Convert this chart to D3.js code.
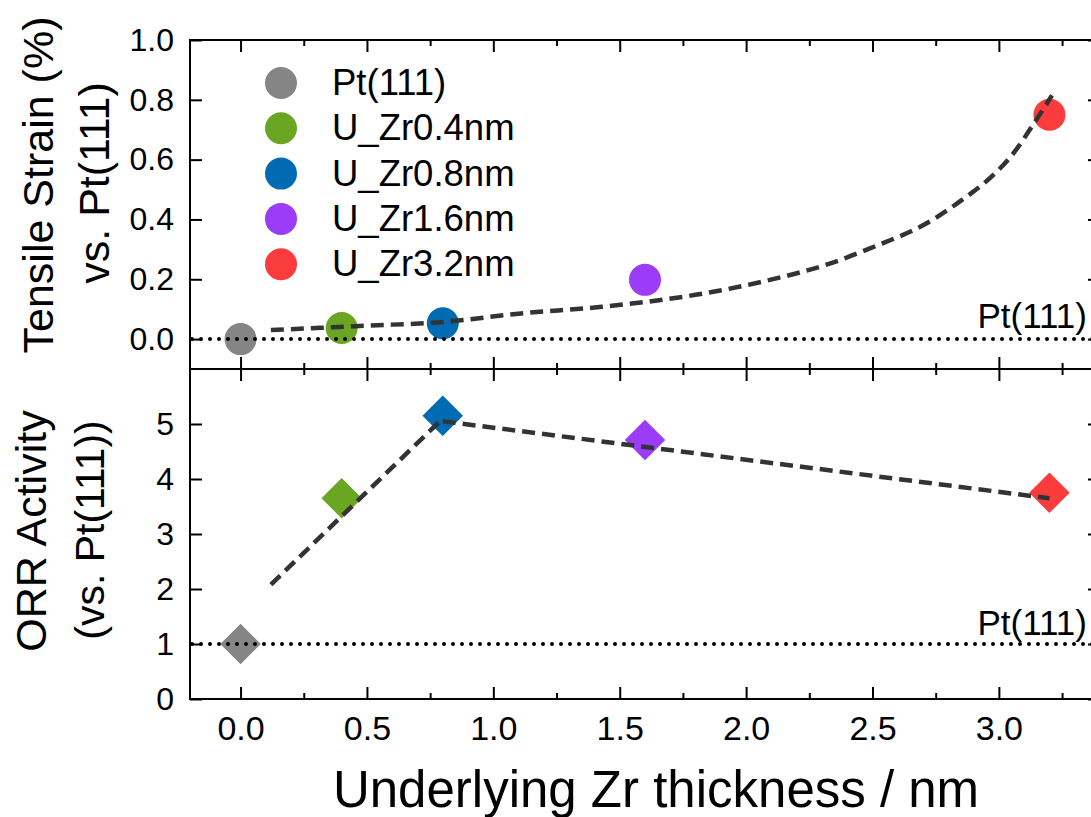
<!DOCTYPE html>
<html>
<head>
<meta charset="utf-8">
<script src="https://cdn.jsdelivr.net/npm/d3@7"></script>
<style>
  html, body { margin: 0; padding: 0; background: #fff; }
  svg { display: block; font-family: "Liberation Sans", Arial, sans-serif; }
</style>
</head>
<body>
<svg id="chart" width="1091" height="817"></svg>
<script>
// ---------------- data ----------------
const categories = ["Pt(111)", "U_Zr0.4nm", "U_Zr0.8nm", "U_Zr1.6nm", "U_Zr3.2nm"];
const thickness  = [0, 0.4, 0.8, 1.6, 3.2];
const strain     = [0, 0.037, 0.053, 0.198, 0.75];      // Tensile strain (%) vs Pt(111)
const activity   = [1.0, 3.65, 5.15, 4.71, 3.75];        // ORR activity vs Pt(111)
const colors     = ["#858585", "#6ba622", "#006ab2", "#9b3cf9", "#fa3c3c"];

// dashed guide curve in the strain panel
const strainFitX = [0.12, 0.5, 0.8, 1.1, 1.43, 1.8, 2.08, 2.34, 2.48, 2.74, 2.87, 2.94, 3.07, 3.13, 3.21];
const strainFitY = [0.030, 0.045, 0.057, 0.085, 0.108, 0.148, 0.195, 0.255, 0.30, 0.40, 0.475, 0.52, 0.635, 0.71, 0.815];

// dashed guide lines in the activity panel
const actLine1X = [0.12, 0.8];
const actLine1Y = [2.08, 5.10];
const actLine2X = [0.8, 3.2];
const actLine2Y = [5.05, 3.65];

const xMajorTicks = [0, 0.5, 1.0, 1.5, 2.0, 2.5, 3.0];
const xMinorTicks = [0.25, 0.75, 1.25, 1.75, 2.25, 2.75, 3.25];
const strainTicks = [0, 0.2, 0.4, 0.6, 0.8, 1.0];
const activityTicks = [0, 1, 2, 3, 4, 5];

const xTitle = "Underlying Zr thickness / nm";
const refLabel = "Pt(111)";

// ---------------- layout ----------------
const L = 190, R = 1100, T = 40, M = 369, B = 699;
const svg = d3.select("#chart");

const x = d3.scaleLinear().domain([-0.2, 3.4]).range([L, R]);
const yS = d3.scaleLinear().domain([-0.1, 1.0]).range([M, T]);
const yA = d3.scaleLinear().domain([0, 6]).range([B, M]);

const strokeW = 2;

function styleAxis(g) {
  g.select(".domain").remove();
  g.selectAll(".tick line").attr("stroke", "#000").attr("stroke-width", strokeW);
  g.selectAll("text").attr("fill", "#000").attr("font-family", "Liberation Sans, Arial, sans-serif");
}

// ---------- x ticks on all four horizontal edges ----------
function xTicks(yPos, dir, labels) {
  const major = (dir > 0 ? d3.axisTop(x) : d3.axisBottom(x))
    .tickValues(xMajorTicks).tickSize(-12).tickSizeOuter(0).tickPadding(17)
    .tickFormat(labels ? d3.format(".1f") : "");
  const g = svg.append("g").attr("transform", `translate(0,${yPos})`).call(major);
  styleAxis(g);
  g.selectAll("text").attr("font-size", 34);
  const minor = (dir > 0 ? d3.axisTop(x) : d3.axisBottom(x))
    .tickValues(xMinorTicks).tickSize(-6).tickSizeOuter(0).tickFormat("");
  const g2 = svg.append("g").attr("transform", `translate(0,${yPos})`).call(minor);
  styleAxis(g2);
}
xTicks(T, 1, false);
xTicks(M, -1, false);
xTicks(M, 1, false);
xTicks(B, -1, true);

// ---------- y axes ----------
const gYS = svg.append("g").attr("transform", `translate(${L},0)`)
  .call(d3.axisLeft(yS).tickValues(strainTicks).tickSize(-12).tickSizeOuter(0).tickPadding(16).tickFormat(d3.format(".1f")));
styleAxis(gYS);
gYS.selectAll("text").attr("font-size", 32);

const gYA = svg.append("g").attr("transform", `translate(${L},0)`)
  .call(d3.axisLeft(yA).tickValues(activityTicks).tickSize(-12).tickSizeOuter(0).tickPadding(16).tickFormat(d3.format("d")));
styleAxis(gYA);
gYA.selectAll("text").attr("font-size", 32);

const gYSR = svg.append("g").attr("transform", `translate(${R},0)`)
  .call(d3.axisRight(yS).tickValues(strainTicks).tickSize(-12).tickSizeOuter(0).tickFormat(""));
styleAxis(gYSR);
const gYAR = svg.append("g").attr("transform", `translate(${R},0)`)
  .call(d3.axisRight(yA).tickValues(activityTicks).tickSize(-12).tickSizeOuter(0).tickFormat(""));
styleAxis(gYAR);

// ---------- frames ----------
const frame = svg.append("g").attr("fill", "none").attr("stroke", "#000").attr("stroke-width", strokeW);
frame.append("rect").attr("x", L).attr("y", T).attr("width", R - L).attr("height", M - T);
frame.append("rect").attr("x", L).attr("y", M).attr("width", R - L).attr("height", B - M);

// ---------- markers ----------
const pts = thickness.map((t, i) => ({ t, s: strain[i], a: activity[i], c: colors[i], name: categories[i] }));

svg.append("g").selectAll("circle").data(pts).join("circle")
  .attr("cx", d => x(d.t)).attr("cy", d => yS(d.s)).attr("r", 16)
  .attr("fill", d => d.c);

const diamond = d3.symbol().type(d3.symbolSquare).size(820);
svg.append("g").selectAll("path").data(pts).join("path")
  .attr("d", diamond)
  .attr("transform", d => `translate(${x(d.t)},${yA(d.a)}) rotate(45)`)
  .attr("fill", d => d.c);

// ---------- dashed guides ----------
const dashStyle = g => g.attr("fill", "none").attr("stroke", "#333").attr("stroke-width", 4.5)
  .attr("stroke-dasharray", "13,7");

const fitLine = d3.line().x(d => x(d[0])).y(d => yS(d[1])).curve(d3.curveMonotoneX);
svg.append("path").datum(strainFitX.map((v, i) => [v, strainFitY[i]]))
  .attr("d", fitLine).call(dashStyle);

const actLine = d3.line().x(d => x(d[0])).y(d => yA(d[1]));
svg.append("path").datum(actLine1X.map((v, i) => [v, actLine1Y[i]])).attr("d", actLine).call(dashStyle);
svg.append("path").datum(actLine2X.map((v, i) => [v, actLine2Y[i]])).attr("d", actLine).call(dashStyle);

// ---------- dotted reference lines ----------
const dotStyle = g => g.attr("stroke", "#000").attr("stroke-width", 4)
  .attr("stroke-linecap", "round").attr("stroke-dasharray", "0,9");
svg.append("line").attr("x1", L + 2).attr("x2", R).attr("y1", yS(0)).attr("y2", yS(0)).call(dotStyle);
svg.append("line").attr("x1", L + 2).attr("x2", R).attr("y1", yA(1)).attr("y2", yA(1)).call(dotStyle);

svg.append("text").attr("x", 1087).attr("y", yS(0) - 11).attr("text-anchor", "end")
  .attr("font-size", 35).attr("fill", "#000").text(refLabel);
svg.append("text").attr("x", 1087).attr("y", yA(1) - 9).attr("text-anchor", "end")
  .attr("font-size", 35).attr("fill", "#000").text(refLabel);

// ---------- legend ----------
const leg = svg.append("g");
const legRows = leg.selectAll("g").data(pts).join("g")
  .attr("transform", (d, i) => `translate(281,${83 + i * 45.3})`);
legRows.append("circle").attr("r", 16).attr("fill", d => d.c);
legRows.append("text").attr("x", 51).attr("y", 12).attr("font-size", 36.5).attr("fill", "#000")
  .text(d => d.name);

// ---------- axis titles ----------
function vTitle(text, xb, yc, size) {
  svg.append("text").attr("transform", `translate(${xb},${yc}) rotate(-90)`)
    .attr("text-anchor", "middle").attr("font-size", size).attr("fill", "#000").text(text);
}
vTitle("Tensile Strain (%)", 53, 185, 43);
vTitle("vs. Pt(111)", 109, 183, 43);
vTitle("ORR Activity", 46, 531, 43);
vTitle("(vs. Pt(111))", 104, 530, 41);

svg.append("text").attr("x", 656).attr("y", 807).attr("text-anchor", "middle")
  .attr("font-size", 51).attr("fill", "#000").text(xTitle);
</script>
</body>
</html>
